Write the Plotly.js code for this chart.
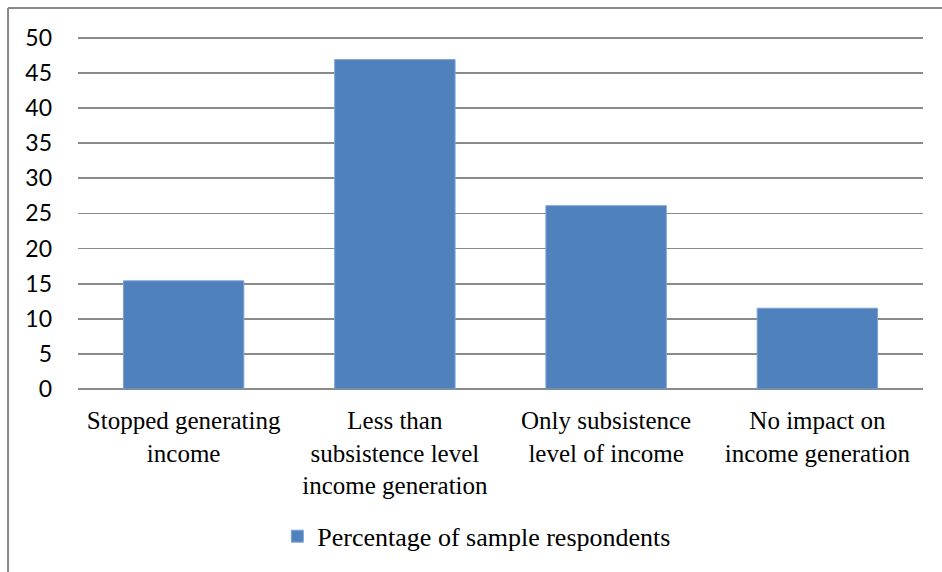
<!DOCTYPE html>
<html>
<head>
<meta charset="utf-8">
<script src="https://cdn.plot.ly/plotly-3.0.1.min.js"></script>
<style>html,body{margin:0;padding:0;background:#fff;}#chart{width:942px;height:572px;}</style>
</head>
<body>
<div id="chart"></div>
<script>
var categories = [
  "Stopped generating<br>income",
  "Less than<br>subsistence level<br>income generation",
  "Only subsistence<br>level of income",
  "No impact on<br>income generation"
];
var seriesName = "Percentage of sample respondents";
var values = [15.4, 46.9, 26.1, 11.5];
var yTicks = [0, 5, 10, 15, 20, 25, 30, 35, 40, 45, 50];

var trace = {
  type: "bar",
  x: categories,
  y: values,
  name: seriesName,
  marker: {color: "#4f81bd", line: {color: "#7ea3d3", width: 1}},
  hoverinfo: "none"
};

var layout = {
  width: 942,
  height: 572,
  margin: {l: 78, r: 19, t: 35, b: 181},
  paper_bgcolor: "#ffffff",
  plot_bgcolor: "#ffffff",
  bargap: 0.43,
  showlegend: true,
  legend: {
    orientation: "h",
    x: 0.472, xanchor: "center",
    y: -0.416, yanchor: "middle",
    font: {family: "Liberation Serif, Times New Roman, serif", size: 26, color: "#000"},
    itemwidth: 30
  },
  xaxis: {
    type: "category",
    showgrid: false,
    showline: false,
    zeroline: false,
    ticks: "",
    tickfont: {family: "Liberation Serif, Times New Roman, serif", size: 25, color: "#000"},
    ticklabelstandoff: 14
  },
  yaxis: {
    range: [0, 50.4],
    tickvals: yTicks,
    ticktext: yTicks.map(String),
    showgrid: true,
    gridcolor: "#8a8a8a",
    gridwidth: 1.8,
    zeroline: true,
    zerolinecolor: "#8a8a8a",
    zerolinewidth: 1.8,
    showline: false,
    ticks: "",
    tickfont: {family: "Lato, Open Sans, sans-serif", size: 23, color: "#000"},
    ticklabelstandoff: 25
  },
  shapes: [
    {type: "line", xref: "paper", yref: "paper", x0: -0.0828, x1: 1.1, y0: 1.076, y1: 1.076,
     line: {color: "#8a8a8a", width: 2}},
    {type: "line", xref: "paper", yref: "paper", x0: -0.0828, x1: -0.0828, y0: 1.076, y1: -0.6,
     line: {color: "#8a8a8a", width: 2}}
  ]
};

Plotly.newPlot("chart", [trace], layout, {displayModeBar: false, staticPlot: true});
</script>
</body>
</html>
